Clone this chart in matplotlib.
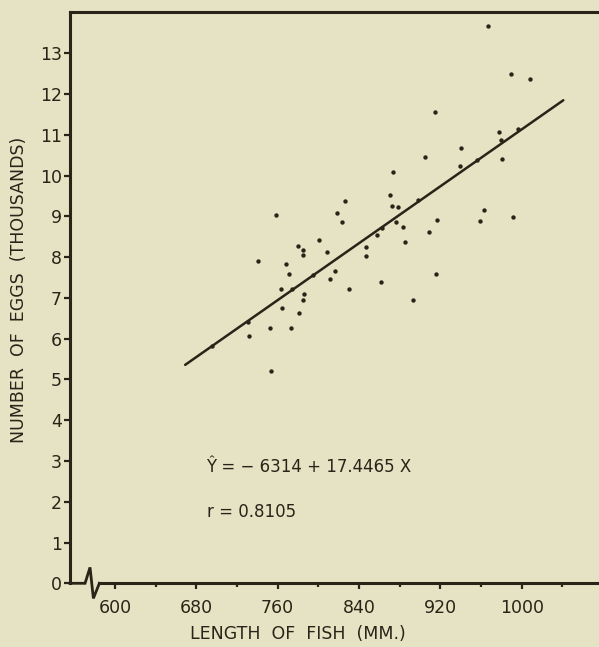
import numpy as np
import matplotlib.pyplot as plt

# fish length (mm) and number of eggs (thousands)
length = [966.6, 989.8, 1007.9, 915.0, 978.2, 940.0, 904.9, 980.3, 873.4, 870.5,
          825.9, 872.2, 878.4, 962.9, 758.4, 818.1, 991.5, 916.7, 958.7, 823.6,
          876.7, 883.3, 909.1, 857.4, 800.6, 885.5, 780.0, 846.9, 784.6, 808.2,
          784.9, 846.9, 740.7, 767.9, 816.1, 771.4, 915.4, 811.5, 862.1, 763.0,
          829.9, 785.9, 785.2, 892.8, 764.6, 781.0, 752.2, 772.8, 731.5, 753.1,
          695.4, 730.5, 773.6, 795.2, 862.3, 898.3, 939.6, 956.1, 979.4, 996.7]
eggs = [13.67, 12.50, 12.37, 11.57, 11.07, 10.67, 10.46, 10.41, 10.09, 9.52,
        9.38, 9.26, 9.23, 9.15, 9.04, 9.08, 8.99, 8.92, 8.89, 8.85,
        8.85, 8.74, 8.61, 8.54, 8.42, 8.36, 8.27, 8.26, 8.17, 8.13,
        8.05, 8.04, 7.91, 7.84, 7.65, 7.59, 7.58, 7.46, 7.39, 7.22,
        7.22, 7.09, 6.96, 6.94, 6.75, 6.64, 6.25, 6.27, 6.07, 5.21,
        5.82, 6.40, 7.23, 7.57, 8.71, 9.40, 10.24, 10.38, 10.87, 11.14]

# regression  Y = a + b X  (eggs in units, X in mm)
a = -6314
b = 17.4465
r = 0.8105
line_x = [669, 1041]

xticks_major = [600, 680, 760, 840, 920, 1000]
xticks_minor = [640, 720, 800, 880, 960, 1040]
yticks = list(range(0, 14))

bg = '#e6e2c4'
ink = '#2a2418'

plt.rcParams['font.family'] = ['DejaVu Sans']
fig = plt.figure(figsize=(5.99, 6.47), dpi=100, facecolor=bg)
ax = fig.add_axes([70/599, (647-583.3)/647, 529/599, 571.6/647])
ax.set_facecolor(bg)

ax.scatter(length, eggs, s=10, color=ink, linewidths=0, zorder=3)
lx = np.array(line_x)
ax.plot(lx, (a + b*lx)/1000, color=ink, lw=1.8, solid_capstyle='round', zorder=2)

ax.set_xlim(555.7, 1076.1)
ax.set_ylim(0, 14.02)

for s in ['left', 'top', 'bottom']:
    ax.spines[s].set_color(ink)
    ax.spines[s].set_linewidth(2.2)
ax.spines['right'].set_visible(False)
ax.spines['bottom'].set_bounds(584.6, 1076.1)
# axis break on the x axis
ax.plot([555.7, 570.5, 575.4, 578.7, 584.6], [0, 0, 0.39, -0.37, 0],
        color=ink, lw=2.0, clip_on=False, solid_joinstyle='miter')

ax.set_xticks(xticks_major)
ax.set_xticks(xticks_minor, minor=True)
ax.set_xticklabels([str(t) for t in xticks_major])
ax.set_yticks(yticks)
ax.set_yticklabels([str(t) for t in yticks])
ax.tick_params(axis='x', which='major', direction='out', length=4, width=1.6,
               color=ink, labelcolor=ink, labelsize=12.5, pad=7)
ax.tick_params(axis='x', which='minor', direction='out', length=3, width=1.6, color=ink)
ax.tick_params(axis='y', direction='out', length=4, width=1.6,
               color=ink, labelcolor=ink, labelsize=12.5, pad=2)

ax.text(689.5, 2.85, "Ŷ = − 6314 + 17.4465 X", color=ink, fontsize=12,
        ha='left', va='center')
ax.text(690.5, 1.75, "r = " + str(r), color=ink, fontsize=12,
        ha='left', va='center')

fig.text(298/599, 1-634/647, "LENGTH  OF  FISH  (MM.)", color=ink, fontsize=12.5,
         ha='center', va='center')
fig.text(19/599, 1-290/647, "NUMBER  OF  EGGS  (THOUSANDS)", color=ink, fontsize=12.5,
         ha='center', va='center', rotation=90)

plt.savefig('out.png', dpi=100, facecolor=bg)
